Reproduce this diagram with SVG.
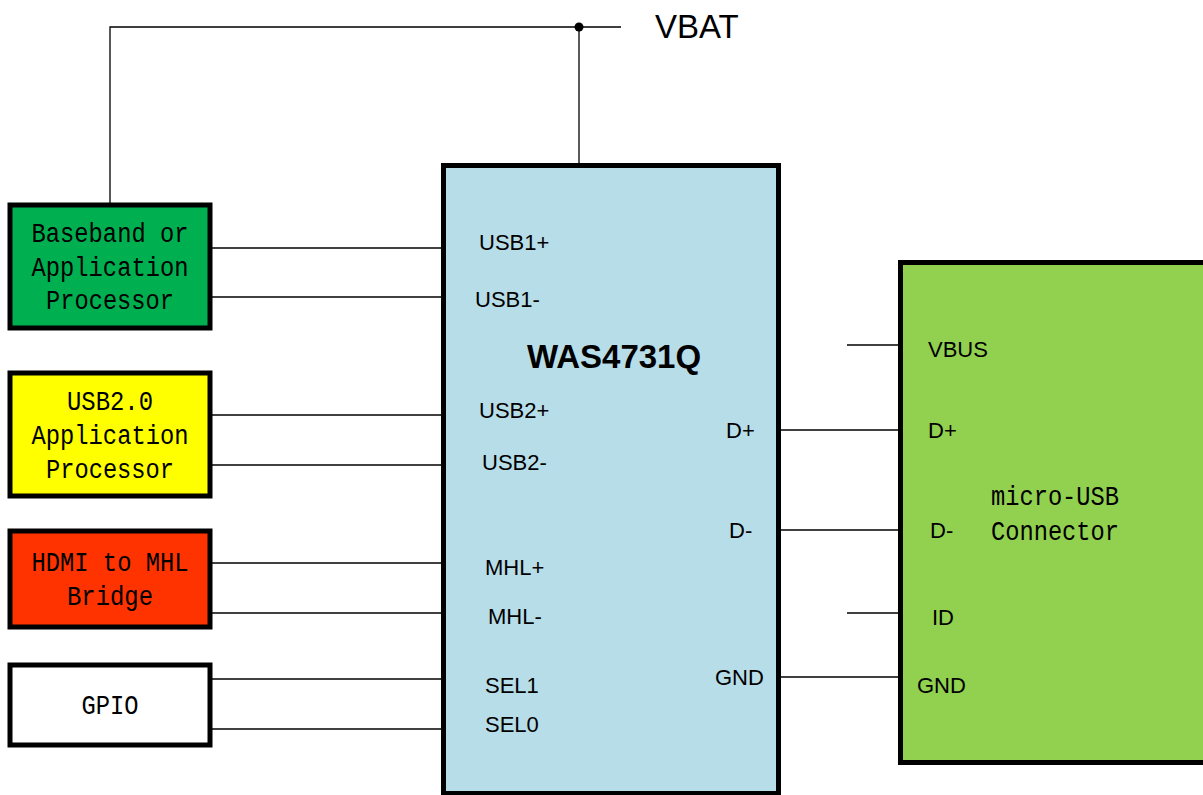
<svg xmlns="http://www.w3.org/2000/svg" width="1203" height="795" viewBox="0 0 1203 795">
<style>
.box{stroke:#000;stroke-width:5}
.w{stroke:#000;stroke-width:1.3;fill:none}
.mono{font-family:"Liberation Mono","Courier New",monospace;font-size:27px;fill:#000}
.pin{font-family:"Liberation Sans",Arial,sans-serif;font-size:22px;fill:#000}
</style>
<rect width="1203" height="795" fill="#fff"/>
<g id="connectors">
<polyline class="w" points="110,205 110,27 621,27"/>
<line class="w" x1="579" y1="27" x2="579" y2="165"/>
<circle cx="579" cy="27" r="4.5" fill="#000"/>
<line class="w" x1="211" y1="248" x2="443" y2="248"/>
<line class="w" x1="211" y1="297" x2="443" y2="297"/>
<line class="w" x1="211" y1="415" x2="443" y2="415"/>
<line class="w" x1="211" y1="465" x2="443" y2="465"/>
<line class="w" x1="211" y1="563" x2="443" y2="563"/>
<line class="w" x1="211" y1="613" x2="443" y2="613"/>
<line class="w" x1="211" y1="679" x2="443" y2="679"/>
<line class="w" x1="211" y1="729" x2="443" y2="729"/>
<line class="w" x1="847" y1="345" x2="900" y2="345"/>
<line class="w" x1="780" y1="430" x2="900" y2="430"/>
<line class="w" x1="780" y1="530" x2="900" y2="530"/>
<line class="w" x1="847" y1="613" x2="900" y2="613"/>
<line class="w" x1="780" y1="677" x2="900" y2="677"/>
</g>
<text x="655" y="38" font-family="Liberation Sans,Arial,sans-serif" font-size="33" fill="#000">VBAT</text>
<g id="baseband">
<rect class="box" x="10" y="205" width="200" height="123" fill="#00b050"/>
<text class="mono" x="110" y="242" text-anchor="middle" textLength="157" lengthAdjust="spacingAndGlyphs">Baseband or</text>
<text class="mono" x="110" y="276" text-anchor="middle" textLength="157" lengthAdjust="spacingAndGlyphs">Application</text>
<text class="mono" x="110" y="309" text-anchor="middle" textLength="128" lengthAdjust="spacingAndGlyphs">Processor</text>
</g>
<g id="usb20">
<rect class="box" x="10" y="373" width="200" height="123" fill="#ffff00"/>
<text class="mono" x="110" y="410" text-anchor="middle" textLength="86" lengthAdjust="spacingAndGlyphs">USB2.0</text>
<text class="mono" x="110" y="444" text-anchor="middle" textLength="157" lengthAdjust="spacingAndGlyphs">Application</text>
<text class="mono" x="110" y="478" text-anchor="middle" textLength="128" lengthAdjust="spacingAndGlyphs">Processor</text>
</g>
<g id="hdmi">
<rect class="box" x="10" y="531" width="200" height="96" fill="#ff3300"/>
<text class="mono" x="110" y="571" text-anchor="middle" textLength="157" lengthAdjust="spacingAndGlyphs">HDMI to MHL</text>
<text class="mono" x="110" y="605" text-anchor="middle" textLength="86" lengthAdjust="spacingAndGlyphs">Bridge</text>
</g>
<g id="gpio">
<rect class="box" x="10" y="665" width="200" height="80" fill="#fff"/>
<text class="mono" x="110" y="714" text-anchor="middle" textLength="57" lengthAdjust="spacingAndGlyphs">GPIO</text>
</g>
<g id="was4731q">
<rect class="box" x="443.5" y="165.5" width="335" height="628" fill="#b7dde8"/>
<text x="614" y="368" text-anchor="middle" font-family="Liberation Sans,Arial,sans-serif" font-size="33" font-weight="bold" fill="#000">WAS4731Q</text>
<text class="pin" x="479" y="250">USB1+</text>
<text class="pin" x="475" y="307">USB1-</text>
<text class="pin" x="479" y="418">USB2+</text>
<text class="pin" x="482" y="470">USB2-</text>
<text class="pin" x="485" y="575">MHL+</text>
<text class="pin" x="488" y="624">MHL-</text>
<text class="pin" x="485" y="693">SEL1</text>
<text class="pin" x="485" y="732">SEL0</text>
<text class="pin" x="726" y="438">D+</text>
<text class="pin" x="729" y="538">D-</text>
<text class="pin" x="715" y="685">GND</text>
</g>
<g id="microusb">
<rect class="box" x="900.5" y="262.5" width="310" height="500" fill="#92d050"/>
<text class="mono" x="991" y="505" textLength="128" lengthAdjust="spacingAndGlyphs">micro-USB</text>
<text class="mono" x="991" y="540" textLength="128" lengthAdjust="spacingAndGlyphs">Connector</text>
<text class="pin" x="928" y="357">VBUS</text>
<text class="pin" x="928" y="438">D+</text>
<text class="pin" x="930" y="538">D-</text>
<text class="pin" x="932" y="625">ID</text>
<text class="pin" x="917" y="693">GND</text>
</g>
</svg>
